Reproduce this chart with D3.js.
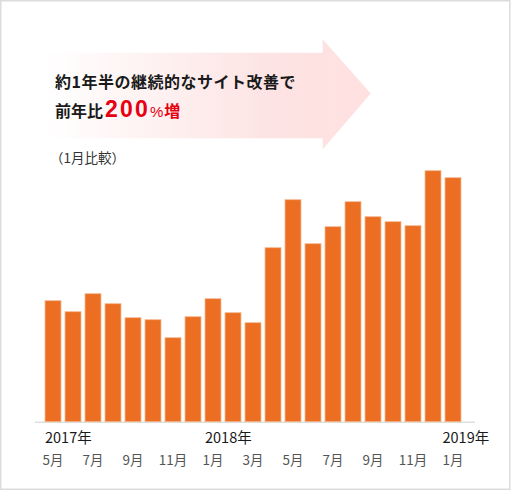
<!DOCTYPE html>
<html>
<head>
<meta charset="utf-8">
<script src="https://cdn.jsdelivr.net/npm/d3@7"></script>
<style>
  body { margin: 0; background: #fff; }
  svg text { font-family: "Noto Sans CJK JP", "Noto Sans", sans-serif; }
</style>
</head>
<body>
<div id="chart"></div>
<script>
// monthly values, 2017/5 .. 2019/1
let months = ["2017-05","2017-06","2017-07","2017-08","2017-09","2017-10","2017-11","2017-12",
              "2018-01","2018-02","2018-03","2018-04","2018-05","2018-06","2018-07","2018-08",
              "2018-09","2018-10","2018-11","2018-12","2019-01"];
let values = [121, 110, 128, 118, 104, 102, 84, 105,
              123, 109, 99, 174, 222, 178, 195, 220,
              205, 200, 196, 251, 244];
// tick labels
let monthLabels = [
  {m: "2017-05", t: "5月"}, {m: "2017-07", t: "7月"}, {m: "2017-09", t: "9月"},
  {m: "2017-11", t: "11月"}, {m: "2018-01", t: "1月"}, {m: "2018-03", t: "3月"},
  {m: "2018-05", t: "5月"}, {m: "2018-07", t: "7月"}, {m: "2018-09", t: "9月"},
  {m: "2018-11", t: "11月"}, {m: "2019-01", t: "1月"}
];
let yearLabels = [
  {m: "2017-05", t: "2017年"}, {m: "2018-01", t: "2018年"}, {m: "2019-01", t: "2019年"}
];

let width = 512, height = 491;
let baseY = 421.7;

let svg = d3.select("#chart").append("svg")
    .attr("width", width)
    .attr("height", height);

// outer frame
svg.append("rect")
    .attr("x", 0.75).attr("y", 0.75)
    .attr("width", 509).attr("height", 488.5)
    .attr("fill", "#fff")
    .attr("stroke", "#dcdcdc")
    .attr("stroke-width", 1.5);

// arrow with gradient
let defs = svg.append("defs");
let grad = defs.append("linearGradient").attr("id", "arrowGrad")
    .attr("x1", "0%").attr("x2", "100%").attr("y1", "0%").attr("y2", "0%");
grad.append("stop").attr("offset", "0%").attr("stop-color", "#ffffff");
grad.append("stop").attr("offset", "70%").attr("stop-color", "#fde3e3");
grad.append("stop").attr("offset", "100%").attr("stop-color", "#ffe0e0");

let arrow = d3.path();
arrow.moveTo(44, 52.7);
arrow.lineTo(322.7, 52.7);
arrow.lineTo(322.7, 39.3);
arrow.lineTo(370.7, 93.5);
arrow.lineTo(322.7, 149.3);
arrow.lineTo(322.7, 138.3);
arrow.lineTo(44, 138.3);
arrow.closePath();
svg.append("path").attr("d", arrow.toString()).attr("fill", "url(#arrowGrad)");

// headline
svg.append("text")
    .attr("x", 55).attr("y", 88)
    .attr("font-size", 16).attr("font-weight", "bold")
    .attr("fill", "#1a1a1a")
    .attr("letter-spacing", 0.5)
    .text("約1年半の継続的なサイト改善で");

let line2 = svg.append("text")
    .attr("x", 55).attr("y", 117)
    .attr("font-weight", "bold");
line2.append("tspan").attr("font-size", 16).attr("fill", "#1a1a1a").text("前年比");
line2.append("tspan").attr("font-size", 23).attr("font-weight", "bold")
    .attr("font-family", "'Liberation Sans', Arial, sans-serif")
    .attr("fill", "#e60012").attr("dx", 2).attr("letter-spacing", 2.2).text("200");
line2.append("tspan").attr("font-size", 15).attr("font-weight", "normal")
    .attr("font-family", "'Liberation Sans', Arial, sans-serif")
    .attr("fill", "#e60012").text("%");
line2.append("tspan").attr("font-size", 16).attr("fill", "#e60012").attr("dx", 1).text("増");

svg.append("text")
    .attr("x", 50).attr("y", 163)
    .attr("font-size", 13.5)
    .attr("fill", "#333")
    .text("（1月比較）");

// scales
let x = d3.scaleBand()
    .domain(months)
    .range([45, 461])
    .paddingInner(0.2)
    .paddingOuter(0);

let y = d3.scaleLinear()
    .domain([0, 260])
    .range([baseY, baseY - 260]);

// axis line
svg.append("line")
    .attr("x1", 35).attr("x2", 475)
    .attr("y1", baseY + 0.5).attr("y2", baseY + 0.5)
    .attr("stroke", "#cfcfcf").attr("stroke-width", 1);

// bars
svg.selectAll(".bar")
    .data(values)
    .enter()
    .append("rect")
    .attr("class", "bar")
    .attr("x", (d, i) => x(months[i]))
    .attr("y", d => y(d))
    .attr("width", x.bandwidth())
    .attr("height", d => y(0) - y(d))
    .attr("fill", "#ec6e22")
    .attr("stroke", "#f6b893")
    .attr("stroke-width", 0.8);

// year labels
svg.selectAll(".year")
    .data(yearLabels)
    .enter()
    .append("text")
    .attr("class", "year")
    .attr("x", d => x(d.m) - (d.m === "2019-01" ? 2.5 : 0))
    .attr("y", 443)
    .attr("font-size", 14.5)
    .attr("fill", "#1a1a1a")
    .text(d => d.t);

// month labels
svg.selectAll(".month")
    .data(monthLabels)
    .enter()
    .append("text")
    .attr("class", "month")
    .attr("x", d => x(d.m) + x.bandwidth() / 2)
    .attr("y", 464.5)
    .attr("text-anchor", "middle")
    .attr("font-size", 13.5)
    .attr("fill", "#555")
    .text(d => d.t);
</script>
</body>
</html>
